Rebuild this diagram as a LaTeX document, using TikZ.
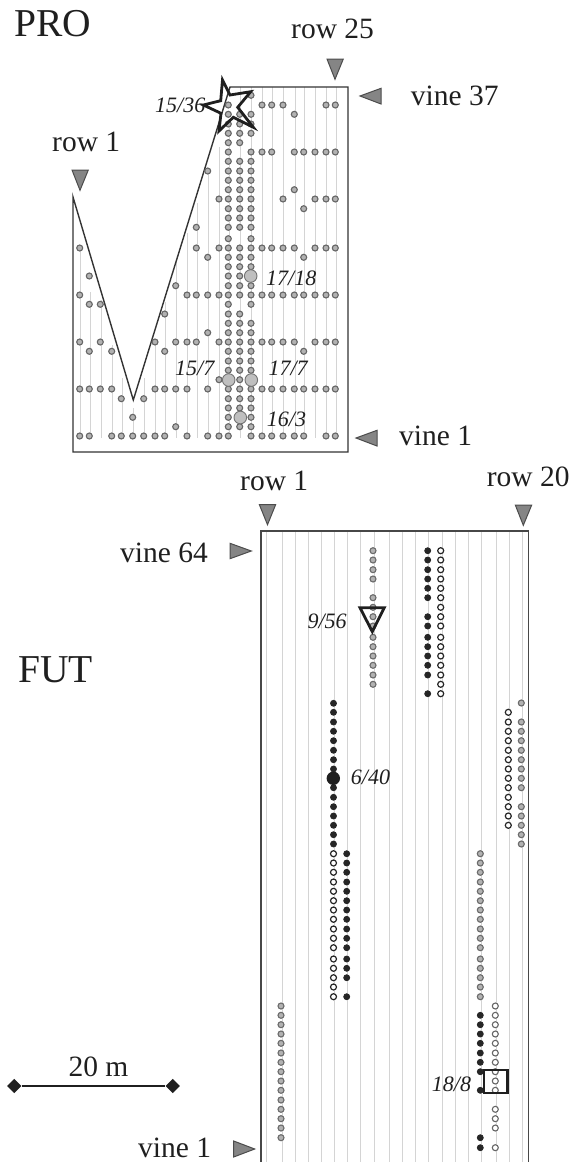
\documentclass[tikz,border=0pt]{standalone}
\usepackage{fontspec}
\setmainfont{Liberation Serif}
\usetikzlibrary{shapes.geometric}
\newcommand\dotcol[3]{\foreach \yy in {#3}{\draw[#1] (#2,\yy) circle[radius=3pt];}}
\newcommand\proX{{79.7,89.3,100.3,111.7,121.3,132.7,143.7,155,164.7,175.7,187,196.3,207.7,219,228.3,239.7,251,262,271.7,283,294.3,303.7,315,326,335.3}}
\newcommand\proY{{436,426.7,417.3,408,398.7,389,379.7,370.3,361,351.3,342,332.7,323.3,314,304.3,295,285.7,276,266.7,257.3,248,238.7,227.3,218,208.7,199,189.7,180.3,171,161.3,152,142.7,133.3,124,114.3,105,95.3}}
\tikzset{
  x=1pt,y=-1pt,
  framel/.style={draw=black!72,line width=1.4pt},
  vineline/.style={draw=black!17,line width=0.9pt},
  prodot/.style={draw=black!60,fill=black!30,line width=1.1pt},
  probig/.style={draw=black!55,fill=black!25,line width=0.9pt},
  graydot/.style={draw=black!58,fill=black!30,line width=1.1pt},
  blackdot/.style={draw=black!85,fill=black!85,line width=0.8pt},
  opendot/.style={draw=black!85,fill=white,line width=1.2pt},
  opengray/.style={draw=black!60,fill=white,line width=1.1pt},
  marker/.style={draw=black!70,fill=black!48,line width=1pt,line join=miter},
  special/.style={draw=black!88,line width=2.8pt,line join=miter},
  lab/.style={inner sep=0pt,anchor=base west,font=\fontsize{29.5}{30}\selectfont,text=black!88},
  big/.style={inner sep=0pt,anchor=base west,font=\fontsize{39.5}{40}\selectfont,text=black!88},
  idl/.style={inner sep=0pt,anchor=base west,font=\fontsize{22}{23}\selectfont\itshape,text=black!88},
  endmark/.style={diamond,fill=black!88,inner sep=0pt,minimum size=14.5pt},
}
\begin{document}
\begin{tikzpicture}
\useasboundingbox (0,0) rectangle (571,1162);
% ---------- PRO vine lines
\foreach \c/\t in {1/250,2/292,3/300,4/345,5/378,6/408,7/378,8/340,9/302,10/262,11/233,12/203,13/173,14/147,15/120,16/87,17/87,18/87,19/87,20/87,21/87,22/87,23/87,24/87,25/87}{
  \pgfmathsetmacro\xx{\proX[\c-1]+0.7}
  \draw[vineline] (\xx,\t) -- (\xx,438);
}
% ---------- PRO frame
\draw[framel,line join=miter,black!80] (230,87) -- (348,87) -- (348,452) -- (73,452) -- (73,197) -- (133.3,400) -- cycle;
% ---------- PRO dots
\foreach \v/\cols in {
 37/{17},
 36/{15,18,19,20,24,25},
 35/{15,16,17,21},
 34/{15,16,17},
 33/{15,16,17},
 32/{15,16},
 31/{15,17,18,19,21,22,23,24,25},
 30/{15,16,17},
 29/{13,15,16,17},
 28/{15,16,17},
 27/{15,16,17,21},
 26/{14,15,16,17,20,23,24,25},
 25/{15,16,17,22},
 24/{15,16,17},
 23/{12,15,16,17},
 22/{15,17},
 21/{1,12,14,15,16,17,18,19,20,21,23,24,25},
 20/{13,15,16,17,22},
 19/{15,16,17},
 18/{2,15,16},
 17/{10,15,16,17},
 16/{1,11,12,13,14,15,16,17,18,19,20,21,22,23,24,25},
 15/{2,3,15,17},
 14/{9,15,16},
 13/{15,16,17},
 12/{13,15,16,17},
 11/{1,3,8,10,11,12,14,15,16,17,18,19,20,21,23,24,25},
 10/{2,4,9,15,16,17,22},
 9/{15,16,17},
 8/{15,16,17},
 7/{14,16},
 6/{1,2,3,4,8,9,10,11,13,15,16,17,18,19,20,21,22,23,24,25},
 5/{5,7,15,16,17},
 4/{15,16,17},
 3/{6,15,17},
 2/{10,15,16,17},
 1/{1,2,4,5,6,7,8,9,11,13,14,15,17,18,19,20,21,22,24,25}}{
  \pgfmathsetmacro\yy{\proY[\v-1]}
  \foreach \c in \cols {
    \pgfmathsetmacro\xx{\proX[\c-1]}
    \draw[prodot] (\xx,\yy) circle[radius=3pt];
  }
}
\foreach \p in {(250.7,276),(228.7,380),(251.3,380),(240.3,417.5)}
  \draw[probig] \p circle[radius=6.3pt];
% star
\draw[special] (222.5,80) -- (230,95) -- (250.7,91.7) -- (237.7,107.3) -- (253.3,127.3) -- (233.3,117.3) -- (219,131) -- (221,113.3) -- (203.3,105) -- (220.7,100.7) -- cycle;
% PRO markers
\draw[marker] (327,59) -- (343.3,59) -- (335,79.3) -- cycle;
\draw[marker] (360,96) -- (381,88.3) -- (381,104) -- cycle;
\draw[marker] (72,170) -- (88.3,170) -- (80,190.3) -- cycle;
\draw[marker] (356,438) -- (377,430.3) -- (377,446) -- cycle;
% PRO text
\node[big] (pro) at (14,36) {PRO};
\node[lab] (r25) at (291,38.3) {row 25};
\node[lab] (v37) at (410.7,105) {vine 37};
\node[lab] (r1a) at (52,151.7) {row 1};
\node[lab] (v1a) at (399,445) {vine 1};
\node[idl] (l1536) at (155,112.7) {15/36};
\node[idl] (l1718) at (266,285.7) {17/18};
\node[idl] (l157) at (175,375.7) {15/7};
\node[idl] (l177) at (268.3,375.7) {17/7};
\node[idl] (l163) at (266.7,426) {16/3};
% ---------- FUT lines
\foreach \xx in {266.7,282.3,295.7,308.7,321.3,334.3,347.7,360.7,374,389.3,402.3,415.7,428.7,442,455,468.3,481.7,496.7,509.7,522.7}
  \draw[vineline] (\xx,531) -- (\xx,1162);
\draw[framel,line join=miter] (261,1163) -- (261,531) -- (528.3,531) -- (528.3,1163);
% FUT dots
\dotcol{graydot}{373}{550.7,560,569.7,579,597.7,607.3,616.7,626,637.3,646.7,656,665.3,675,684.3}
\dotcol{blackdot}{427.7}{550.7,560,569.7,579,588.3,597.7,616.7,626,637.3,646.7,656,665.3,675,693.7}
\dotcol{opendot}{440.7}{550.7,560,569.7,579,588.3,597.7,607.3,616.7,626,637.3,646.7,656,665.3,675,684.3,693.7}
\dotcol{blackdot}{333.5}{703.3,712.3,722,731.3,740.7,750.3,759.7,769,787.7,797.3,806.7,816,825.3,834.7,844}
\dotcol{opendot}{333.5}{853.7,863,872.3,882,891.3,900.7,910,919.3,929,938.3,947.7,959,968.3,977.7,987,996.7}
\dotcol{blackdot}{346.7}{853.7,863,872.3,882,891.3,900.7,910,919.3,929,938.3,947.7,959,968.3,977.7,996.7}
\dotcol{opendot}{508.3}{712.3,722,731.3,740.7,750.3,759.7,769,778.3,787.7,797.3,806.7,816,825.3}
\dotcol{graydot}{521.3}{703,722,731.3,740.7,750.3,759.7,769,778.3,787.7,806.7,816,825.3,834.7,844}
\dotcol{graydot}{480.3}{853.7,863,872.3,882,891.3,900.7,910,919.3,929,938.3,947.7,959,968.3,977.7,987,996.7}
\dotcol{blackdot}{480.3}{1015.3,1024.7,1034,1043.3,1053,1062.3,1071.7,1090.3,1137.7,1147.7}
\dotcol{opengray}{495.3}{1006,1015.3,1024.7,1034,1043.3,1053,1062.3,1071.7,1081,1090.3,1109.3,1118.7,1128,1147.7}
\dotcol{graydot}{281}{1006,1015.3,1024.7,1034,1043.3,1053,1062.3,1071.7,1081,1090.3,1100,1109.3,1118.7,1128,1137.7}
\fill[black!88] (333.3,778.3) circle[radius=6.7pt];
% specials
\draw[special] (360,607.7) -- (384.3,607.7) -- (372.3,631.7) -- cycle;
\draw[special] (484,1070) rectangle (507.7,1093);
% FUT markers
\draw[marker] (259.3,504.5) -- (275.7,504.5) -- (267.5,524.7) -- cycle;
\draw[marker] (515.3,505) -- (531.7,505) -- (523.3,525.3) -- cycle;
\draw[marker] (230,543.3) -- (230,558.7) -- (251.3,551) -- cycle;
\draw[marker] (233.7,1141) -- (233.7,1157) -- (254.7,1149) -- cycle;
% FUT text
\node[big] (fut) at (18,682) {FUT};
\node[lab] (r1b) at (240,490.7) {row 1};
\node[lab] (r20) at (486.7,486.7) {row 20};
\node[lab] (v64) at (120,562) {vine 64};
\node[lab] (v1b) at (138,1157) {vine 1};
\node[idl] (l956) at (307.3,628.3) {9/56};
\node[idl] (l640) at (350.7,784) {6/40};
\node[idl] (l188) at (431.7,1091.7) {18/8};
% scale
\node[endmark] (sa) at (14.3,1086) {};
\node[endmark] (sb) at (172.7,1086) {};
\draw[black!88,line width=1.5pt] (sa) -- (sb);
\node[lab] (sc) at (68.3,1076.7) {20 m};
\end{tikzpicture}
\end{document}
